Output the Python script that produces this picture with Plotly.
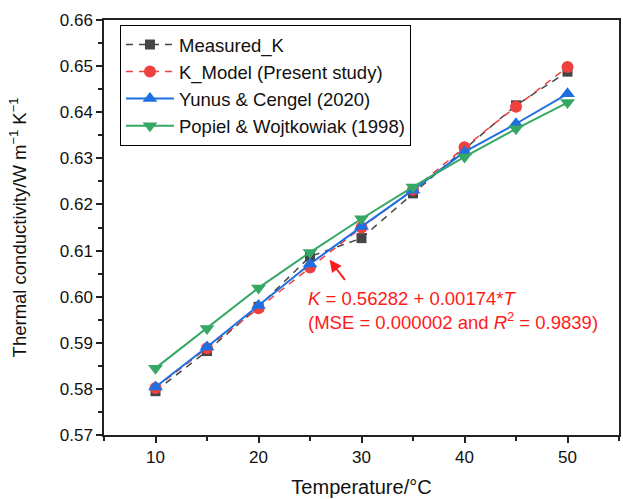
import plotly.graph_objects as go

temperature = [10, 15, 20, 25, 30, 35, 40, 45, 50]
measured_k = [0.5795, 0.5882, 0.5978, 0.6087, 0.6127, 0.6224, 0.6320, 0.6415, 0.6488]
model_k = [0.5802, 0.5888, 0.5975, 0.6063, 0.6150, 0.6232, 0.6324, 0.6412, 0.6498]
yunus_k = [0.5804, 0.5891, 0.5981, 0.6071, 0.6152, 0.6231, 0.6314, 0.6375, 0.6440]
popiel_k = [0.5845, 0.5931, 0.6019, 0.6096, 0.6169, 0.6238, 0.6303, 0.6364, 0.6421]

FONT = "Liberation Sans, Arial, sans-serif"

fig = go.Figure()
fig.add_trace(go.Scatter(x=temperature, y=measured_k, name="Measured_K", mode="lines+markers",
                         line=dict(color="#454545", width=1.5, dash="7px,6px"),
                         marker=dict(symbol="square", size=10, color="#454545")))
fig.add_trace(go.Scatter(x=temperature, y=model_k, name="K_Model (Present study)", mode="lines+markers",
                         line=dict(color="#ef4040", width=1.5, dash="7px,6px"),
                         marker=dict(symbol="circle", size=12, color="#ef4040")))
fig.add_trace(go.Scatter(x=temperature, y=yunus_k, name="Yunus & Cengel (2020)", mode="lines+markers",
                         line=dict(color="#1f6fe0", width=2),
                         marker=dict(symbol="triangle-up", size=13, color="#1f6fe0")))
fig.add_trace(go.Scatter(x=temperature, y=popiel_k, name="Popiel & Wojtkowiak (1998)", mode="lines+markers",
                         line=dict(color="#35a865", width=2),
                         marker=dict(symbol="triangle-down", size=13, color="#35a865")))

fig.add_annotation(x=24.6, y=0.5969, xref="x", yref="y", xanchor="left", yanchor="middle", align="left",
                   showarrow=False,
                   text="<i>K</i> = 0.56282 + 0.00174*<i>T</i><br>(MSE = 0.000002 and <i>R</i><sup>2</sup> = 0.9839)",
                   font=dict(family=FONT, size=18.5, color="#ff1a1a"))
fig.add_annotation(x=26.9, y=0.6080, ax=28.5, ay=0.6033, xref="x", yref="y", axref="x", ayref="y",
                   text="", showarrow=True, arrowhead=2, arrowsize=1.2, arrowwidth=2, arrowcolor="#ff1a1a")

fig.update_layout(
    width=623, height=499,
    margin=dict(l=104, r=2, t=20, b=64),
    paper_bgcolor="white", plot_bgcolor="white",
    font=dict(family=FONT, size=17, color="#111"),
    showlegend=True,
    legend=dict(x=0.031, y=0.988, xanchor="left", yanchor="top",
                bordercolor="black", borderwidth=1, bgcolor="white", itemwidth=48,
                font=dict(family=FONT, size=18.5, color="#111"), tracegroupgap=0),
)
fig.update_xaxes(range=[5, 55], tickvals=[10, 20, 30, 40, 50], ticks="outside", ticklen=6, tickwidth=1.5,
                 showline=True, linecolor="#222", linewidth=1.5, mirror=True, showgrid=False, zeroline=False,
                 minor=dict(tickvals=[5, 15, 25, 35, 45, 55], ticks="outside", ticklen=4, tickwidth=1.5, tickcolor="#222"),
                 tickcolor="#222",
                 title=dict(text="Temperature/°C", font=dict(family=FONT, size=20), standoff=14))
fig.update_yaxes(range=[0.57, 0.66], tickvals=[0.57, 0.58, 0.59, 0.60, 0.61, 0.62, 0.63, 0.64, 0.65, 0.66],
                 tickformat=".2f", ticks="outside", ticklen=6, tickwidth=1.5, tickcolor="#222",
                 showline=True, linecolor="#222", linewidth=1.5, mirror=True, showgrid=False, zeroline=False,
                 minor=dict(tickvals=[0.575, 0.585, 0.595, 0.605, 0.615, 0.625, 0.635, 0.645, 0.655],
                            ticks="outside", ticklen=4, tickwidth=1.5, tickcolor="#222"),
                 title=dict(text="Thermal conductivity/W m<sup>−1</sup> K<sup>−1</sup>", font=dict(family=FONT, size=18.5), standoff=28))

fig.write_html("out.html")
